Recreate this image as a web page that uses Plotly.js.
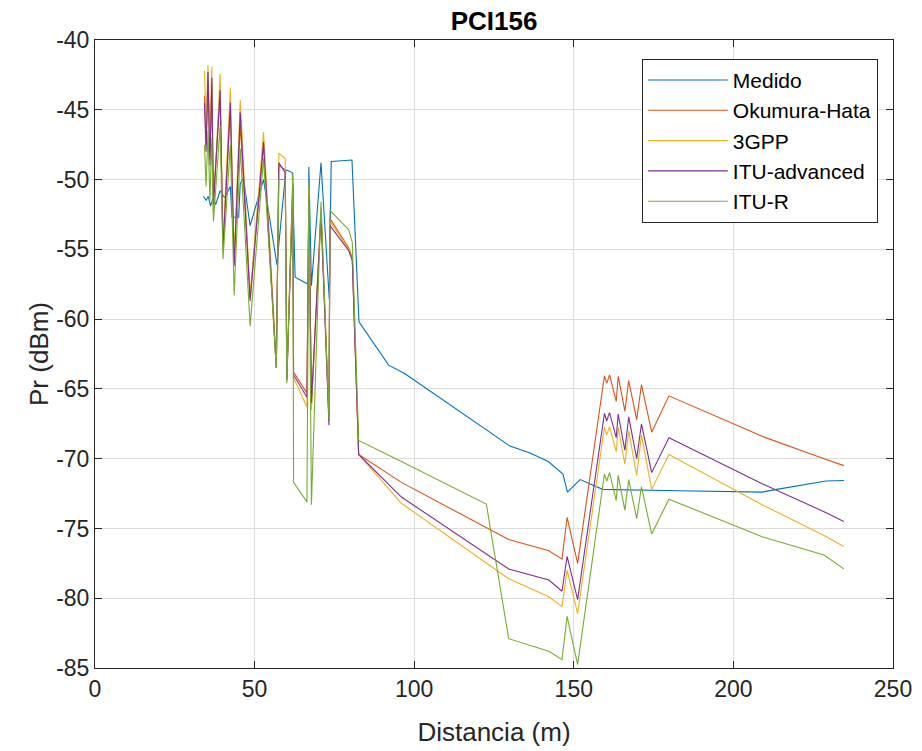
<!DOCTYPE html>
<html>
<head>
<meta charset="utf-8">
<script src="https://cdn.plot.ly/plotly-3.0.1.min.js"></script>
<style>html,body{margin:0;padding:0;background:#fff;}#chart{width:922px;height:751px;}</style>
</head>
<body>
<div id="chart"></div>
<script>
// Measured series (Medido)
const distMedido = [34.0,34.8,35.5,36.2,37.0,37.8,39.2,40.6,42.4,42.9,45.0,45.5,46.5,48.6,52.8,57.0,59.8,61.8,62.7,66.8,67.0,67.8,70.8,73.4,74.0,80.5,82.7,92.0,97.0,130.0,136.3,142.0,146.6,148.0,152.0,159.0,183.0,209.0,213.6,229.0,234.6];
const medido = [-51.2,-51.5,-51.2,-51.9,-51.3,-51.8,-50.8,-51.3,-50.5,-52.7,-52.7,-50.3,-49.9,-53.3,-50.0,-56.1,-49.3,-49.5,-57.0,-57.5,-49.1,-57.6,-48.8,-58.6,-48.7,-48.6,-60.2,-63.3,-63.9,-69.1,-69.6,-70.2,-71.1,-72.4,-71.5,-72.2,-72.3,-72.4,-72.2,-71.6,-71.56];

// Model series share one distance grid
const distModel = [34.3,34.8,35.4,36.0,36.6,37.1,39.2,40.1,42.4,43.6,45.5,48.6,52.8,56.8,57.6,59.6,60.1,62.0,62.2,66.4,67.0,67.8,70.8,73.3,73.6,79.5,80.6,82.6,96.0,122.6,129.6,142.2,146.3,147.9,151.2,159.6,160.3,161.2,163.3,163.9,166.0,167.2,169.7,171.2,174.4,179.8,209.0,228.4,234.6];
const okumuraHata = [-44.0,-47.5,-43.0,-48.5,-43.2,-51.5,-44.0,-54.8,-45.0,-56.0,-46.0,-58.5,-47.5,-63.5,-49.0,-49.3,-64.3,-50.5,-63.8,-65.3,-51.0,-66.2,-52.3,-67.0,-52.8,-54.9,-55.6,-69.7,-71.7,-74.95,-75.8,-76.6,-77.2,-74.2,-77.5,-64.06,-64.6,-64.0,-65.9,-64.1,-66.6,-64.4,-67.2,-64.7,-68.1,-65.5,-68.4,-70.0,-70.5];
const gpp3 = [-42.2,-46.0,-41.8,-47.0,-41.9,-52.5,-42.4,-54.5,-43.4,-55.8,-44.3,-58.3,-46.6,-63.0,-48.1,-48.5,-64.0,-49.8,-64.2,-66.3,-50.5,-66.5,-52.0,-67.3,-53.0,-55.0,-55.7,-69.7,-73.2,-77.45,-78.6,-79.9,-80.6,-78.0,-81.1,-67.75,-68.3,-67.7,-69.5,-67.75,-70.4,-68.0,-71.2,-68.3,-72.2,-69.7,-73.3,-75.5,-76.3];
const ituAdvanced = [-44.5,-48.0,-42.3,-49.0,-42.7,-51.8,-43.6,-55.0,-44.5,-56.2,-45.2,-58.7,-47.3,-63.5,-48.8,-49.5,-64.4,-50.3,-64.0,-65.6,-51.2,-66.0,-52.5,-67.6,-53.3,-55.1,-55.8,-69.7,-72.75,-76.8,-77.9,-78.7,-79.5,-77.0,-80.1,-66.75,-67.3,-66.7,-68.5,-66.8,-69.4,-67.0,-70.0,-67.5,-71.0,-68.5,-71.8,-73.8,-74.5];
const ituR = [-47.5,-50.5,-46.5,-51.5,-47.0,-53.0,-46.2,-55.7,-47.5,-58.3,-47.8,-60.5,-48.5,-63.5,-50.0,-50.0,-64.6,-49.5,-71.7,-73.1,-50.2,-73.3,-51.6,-67.2,-52.2,-53.6,-54.5,-68.7,-70.2,-73.25,-82.9,-83.8,-84.4,-81.3,-84.75,-71.1,-71.6,-71.0,-73.0,-71.2,-73.7,-71.5,-74.3,-72.0,-75.4,-72.9,-75.6,-76.9,-77.9];

const seriesNames = ["Medido","Okumura-Hata","3GPP","ITU-advanced","ITU-R"];
const seriesColors = ["#0072BD","#D95319","#EDB120","#7E2F8E","#77AC30"];
const xTicks = [0,50,100,150,200,250];
const yTicks = [-85,-80,-75,-70,-65,-60,-55,-50,-45,-40];

const ys = [medido, okumuraHata, gpp3, ituAdvanced, ituR];
const xs = [distMedido, distModel, distModel, distModel, distModel];

const traces = ys.map((y,i)=>({
  x: xs[i], y: y, type: "scatter", mode: "lines", name: seriesNames[i],
  line: {color: seriesColors[i], width: 1.1}
}));

const font = "Liberation Sans, Arial, Helvetica, sans-serif";
const axisCommon = {
  showgrid: true, gridcolor: "#dcdcdc", gridwidth: 1,
  zeroline: false, showline: true, linecolor: "#262626", linewidth: 1,
  mirror: "ticks", ticks: "inside", ticklen: 7, tickcolor: "#262626",
  tickfont: {family: font, size: 23, color: "#262626"}
};

const layout = {
  width: 922, height: 751,
  paper_bgcolor: "#ffffff", plot_bgcolor: "#ffffff",
  margin: {l: 95, r: 29, t: 40, b: 83},
  title: {text: "<b>PCI156</b>", font: {family: font, size: 26, color: "#000"}, x: 0.5, xanchor: "center", xref: "paper", y: 0.972, yanchor: "middle"},
  xaxis: Object.assign({}, axisCommon, {range: [0,250], tickvals: xTicks, ticktext: xTicks.map(String),
    title: {text: "Distancia (m)", font: {family: font, size: 26, color: "#262626"}, standoff: 22}}),
  yaxis: Object.assign({}, axisCommon, {range: [-85,-40], tickvals: yTicks, ticktext: yTicks.map(String),
    title: {text: "Pr (dBm)", font: {family: font, size: 26, color: "#262626"}, standoff: 0}}),
  showlegend: true,
  legend: {x: 0.981, y: 0.970, xanchor: "right", yanchor: "top",
    bgcolor: "#ffffff", bordercolor: "#262626", borderwidth: 1, itemwidth: 80,
    font: {family: font, size: 21, color: "#000"}, tracegroupgap: 0}
};

Plotly.newPlot("chart", traces, layout, {displayModeBar: false, staticPlot: true});
</script>
</body>
</html>
